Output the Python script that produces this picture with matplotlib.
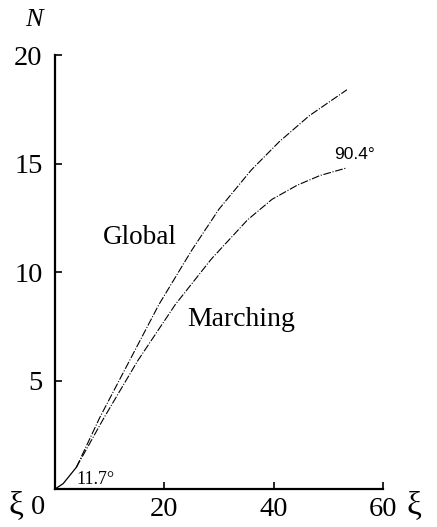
import matplotlib
matplotlib.use("Agg")
import matplotlib.pyplot as plt

plt.rcParams['font.family'] = ['Liberation Serif', 'DejaVu Serif']

# values
xi_global = [0, 1.5, 3.9, 8.2, 13.6, 19.0, 25.0, 30.0, 35.9, 41.0, 46.5, 53.4]
n_global = [0, 0.25, 1.0, 3.3, 5.9, 8.5, 11.0, 12.9, 14.7, 16.0, 17.2, 18.4]

xi_march = [0, 1.5, 3.9, 9.0, 15.1, 22.0, 28.6, 35.2, 39.7, 44.3, 48.5, 53.4]
n_march = [0, 0.25, 1.0, 3.3, 5.9, 8.5, 10.6, 12.4, 13.35, 14.0, 14.45, 14.8]

x_ticks = [20, 40, 60]
y_ticks = [5, 10, 15, 20]

fig = plt.figure(figsize=(4.37, 5.27), dpi=100)
ax = fig.add_axes([0.1259, 0.0721, 0.7506, 0.8235])

dashdot = (0, (7, 1.5, 1, 1.5))
# common start drawn solid, the rest dash-dot
ax.plot(xi_global[:3], n_global[:3], color='black', lw=0.9)
ax.plot(xi_global[2:], n_global[2:], color='black', lw=0.8, linestyle=dashdot)
ax.plot(xi_march[2:], n_march[2:], color='black', lw=0.8, linestyle=dashdot)

ax.set_xlim(0, 60)
ax.set_ylim(0, 20)
ax.set_xticks(x_ticks)
ax.set_yticks(y_ticks)
ax.tick_params(direction='in', length=5, width=1.2, labelsize=20.5)
ax.tick_params(axis='x', pad=6)
ax.tick_params(axis='y', pad=9)

for s in ['top', 'right']:
    ax.spines[s].set_visible(False)
for s in ['left', 'bottom']:
    ax.spines[s].set_linewidth(1.6)

ax.text(15.5, 11.6, "Global", fontsize=19.5, ha='center', va='center')
ax.text(34.1, 7.8, "Marching", fontsize=20, ha='center', va='center')
ax.text(54.7, 15.4, "90.4°", fontsize=12.5, ha='center', va='center',
        family=['Liberation Sans', 'DejaVu Sans'])
ax.text(7.4, 0.45, "11.7°", fontsize=13, ha='center', va='center')

# axis letters and the origin label
fig.text(38 / 437, 1 - 507 / 527, "0", fontsize=20.5, ha='center', va='center')
fig.text(16 / 437, 1 - 506 / 527, "ξ", fontsize=24, ha='center', va='center')
fig.text(414 / 437, 1 - 506 / 527, "ξ", fontsize=24, ha='center', va='center')
fig.text(34 / 437, 1 - 20 / 527, "N", fontsize=19, style='italic', ha='center', va='center')

fig.savefig("out.png", dpi=100)
